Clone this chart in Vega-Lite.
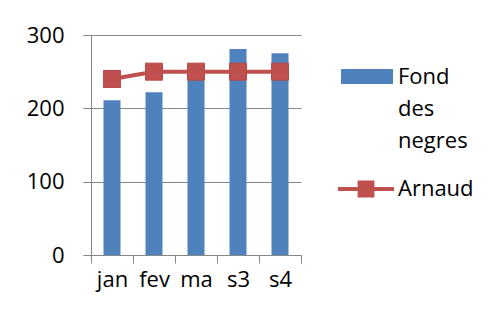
{
  "$schema": "https://vega.github.io/schema/vega-lite/v6.json",
  "autosize": {"type": "none"},
  "width": 210,
  "height": 220,
  "padding": {"left": 91, "top": 35, "right": 198, "bottom": 62},
  "background": "white",
  "config": {
    "font": "Open Sans",
    "view": {"stroke": null},
    "style": {"guide-label": {"lineHeight": 32}}
  },
  "data": {
    "values": [
      {"month": "jan", "fond": 211, "arnaud": 240},
      {"month": "fev", "fond": 222, "arnaud": 250},
      {"month": "ma", "fond": 248, "arnaud": 250},
      {"month": "s3", "fond": 281, "arnaud": 250},
      {"month": "s4", "fond": 275, "arnaud": 250}
    ]
  },
  "encoding": {
    "x": {
      "field": "month", "type": "nominal", "sort": null, "title": null,
      "scale": {"paddingInner": 0, "paddingOuter": 0},
      "axis": {
        "labelAngle": 0, "labelFontSize": 22, "labelColor": "#000000",
        "domainColor": "#868686", "tickColor": "#868686", "tickSize": 8,
        "tickBand": "extent", "labelPadding": 6, "grid": false
      }
    }
  },
  "layer": [
    {
      "mark": {"type": "bar", "size": 17, "color": "#4F81BD"},
      "encoding": {
        "y": {
          "field": "fond", "type": "quantitative", "title": null,
          "scale": {"domain": [0, 300]},
          "axis": {
            "values": [0, 100, 200, 300], "labelFontSize": 22, "labelColor": "#000000",
            "domainColor": "#868686", "tickColor": "#868686", "tickSize": 8,
            "gridColor": "#868686", "labelPadding": 19
          }
        },
        "fill": {
          "datum": "Fond des negres",
          "scale": {"range": ["#4F81BD"]},
          "legend": {
            "orient": "none", "legendX": 250, "legendY": 23, "title": null,
            "symbolType": "M-1,-0.58H1V0H-1Z", "symbolSize": 2704,
            "symbolStrokeWidth": 0, "labelFontSize": 22, "labelColor": "#000000",
            "labelExpr": "['Fond', 'des', 'negres']", "labelBaseline": "alphabetic", "labelOffset": 5
          }
        }
      }
    },
    {
      "mark": {"type": "line", "color": "#C0504D", "strokeWidth": 4},
      "encoding": {
        "y": {"field": "arnaud", "type": "quantitative"},
        "stroke": {
          "datum": "Arnaud",
          "scale": {"range": ["#C0504D"]},
          "legend": {
            "orient": "none", "legendX": 247, "legendY": 126, "title": null,
            "symbolType": "M-1,-0.07H1V0.07H-1Z M-0.3,-0.3H0.3V0.3H-0.3Z", "symbolSize": 3136,
            "symbolFillColor": "#C0504D", "symbolStrokeWidth": 0,
            "labelFontSize": 22, "labelColor": "#000000", "labelOffset": 4
          }
        }
      }
    },
    {
      "mark": {"type": "square", "color": "#C0504D", "opacity": 1, "size": 289, "stroke": "#B84A47", "strokeWidth": 1},
      "encoding": {
        "y": {"field": "arnaud", "type": "quantitative"}
      }
    }
  ]
}
